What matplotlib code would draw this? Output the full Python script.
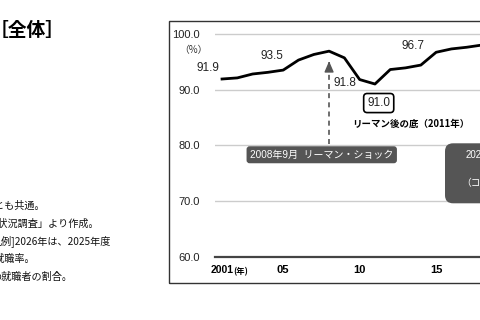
import matplotlib
matplotlib.use("Agg")
import matplotlib.pyplot as plt
from matplotlib.patches import Rectangle, FancyBboxPatch
from matplotlib.transforms import IdentityTransform

plt.rcParams['font.family'] = ['Liberation Sans', 'Noto Sans CJK JP']

# 就職率（%）
years = [2001, 2002, 2003, 2004, 2005, 2006, 2007, 2008, 2009,
         2010, 2011, 2012, 2013, 2014, 2015, 2016, 2017, 2018]
rates = [91.9, 92.1, 92.8, 93.1, 93.5, 95.3, 96.3, 96.9, 95.7,
         91.8, 91.0, 93.6, 93.9, 94.4, 96.7, 97.3, 97.6, 98.0]
xticks = [2001, 2005, 2010, 2015]
xlabels = ["2001", "05", "10", "15"]
yticks = [60, 70, 80, 90, 100]

notes = ["調査対象はいずれとも共通。",
         "「就職状況調査」より作成。",
         "凡例]2026年は、2025年度",
         "の就職率。",
         "の就職者の割合。"]

W, H = 480, 320
fig = plt.figure(figsize=(4.8, 3.2), dpi=100)

# outer frame of the chart panel
fig.add_artist(Rectangle((169 / W, (H - 283.3) / H), 1.0, (283.3 - 20.7) / H,
                         transform=fig.transFigure, fill=False,
                         ec='#333333', lw=1.0))

ax = fig.add_axes([215 / W, (H - 256.7) / H, 397 / W, 229.5 / H])
ax.set_xlim(2000.54, 2026.5)
ax.set_ylim(60, 101.2)
for s in ax.spines.values():
    s.set_visible(False)
for y in yticks[1:]:
    ax.axhline(y, color='#cccccc', lw=1.0, zorder=1)
ax.axhline(60, color='#444444', lw=1.6, zorder=2, clip_on=False)

ax.set_yticks(yticks, [f"{v:.1f}" for v in yticks])
ax.set_xticks(xticks, xlabels)
ax.tick_params(axis='y', length=0, pad=11, labelsize=8, labelcolor='#222222')
ax.tick_params(axis='x', length=0, pad=6, labelsize=8)
for t in ax.get_xticklabels():
    t.set_fontweight('bold')
ax.get_xticklabels()[0].set_fontsize(7.5)
ax.annotate("(年)", xy=(2001, 0), xycoords=('data', 'axes fraction'),
            xytext=(8, -10.5), textcoords='offset points', fontsize=6,
            fontweight='bold', va='center', ha='left', family=['Noto Sans CJK JP'])
ax.text(-0.055, 0.90, "（%）", transform=ax.transAxes, fontsize=7,
        ha='center', va='center', color='#333333', family=['Noto Sans CJK JP'])

ax.plot(years, rates, color='black', lw=2.0, zorder=3, solid_joinstyle='round')

def label(year, dx, dy, **kw):
    v = rates[years.index(year)]
    return ax.annotate(f"{v:.1f}", xy=(year, v), xytext=(dx, dy),
                       textcoords='offset points', ha='center', va='center',
                       fontsize=8.5, color='#222222', **kw)

label(2001, -10, 8)
label(2005, -8.3, 10)
label(2010, -10.8, -2.4)
label(2015, -16.8, 4.8)
label(2011, 2.7, -13.7,
      bbox=dict(boxstyle='round,pad=0.3,rounding_size=0.3', fc='white',
                ec='black', lw=1.2))
ax.annotate("リーマン後の底（2011年）", xy=(2011, rates[years.index(2011)]),
            xytext=(26, -28.8), textcoords='offset points', ha='center',
            va='center', fontsize=6.8, fontweight='bold',
            family=['Noto Sans CJK JP'])

# Lehman shock marker
peak = rates[years.index(2008)]
ax.plot([2008, 2008], [80.3, peak - 2.8], ls=(0, (3, 2.5)), color='#555555', lw=1.2)
ax.annotate("", xy=(2008, peak - 1.3), xytext=(2008, peak - 2.9),
            arrowprops=dict(arrowstyle='-|>,head_width=0.28,head_length=0.65',
                            color='#555555', lw=1.0))
ax.text(2008 - 0.48, 78.3, "2008年9月  リーマン・ショック", ha='center', va='center',
        fontsize=7.2, color='white',
        bbox=dict(boxstyle='round,pad=0.35,rounding_size=0.3', fc='#555555', ec='none'))

# covid box (cut at the right edge)
fig.add_artist(FancyBboxPatch((445, H - 203.3), 120, 60,
                              boxstyle='round,pad=0,rounding_size=8',
                              transform=IdentityTransform(), fc='#555555', ec='none'))
fig.text(466 / W, 1 - 155 / H, "2020年", fontsize=7, color='white',
         ha='left', va='center')
fig.text(461 / W, 1 - 183 / H, "（コロナ禍）", fontsize=7, color='white',
         ha='left', va='center', family=['Noto Sans CJK JP'])

# left side text
fig.text(65 / W, 1 - 30 / H, "［全体］", fontsize=13.5, fontweight='bold',
         ha='right', va='center', family=['Noto Sans CJK JP'])
note_right = [45, 99, 111, 35, 72]
note_y = [205.5, 223.3, 241, 258.8, 276.6]
for txt, xr, yy in zip(notes, note_right, note_y):
    fig.text(xr / W, 1 - yy / H, txt, fontsize=7.3, ha='right', va='center',
             color='#111111', family=['Noto Sans CJK JP'])

fig.savefig("out.png", dpi=100)
